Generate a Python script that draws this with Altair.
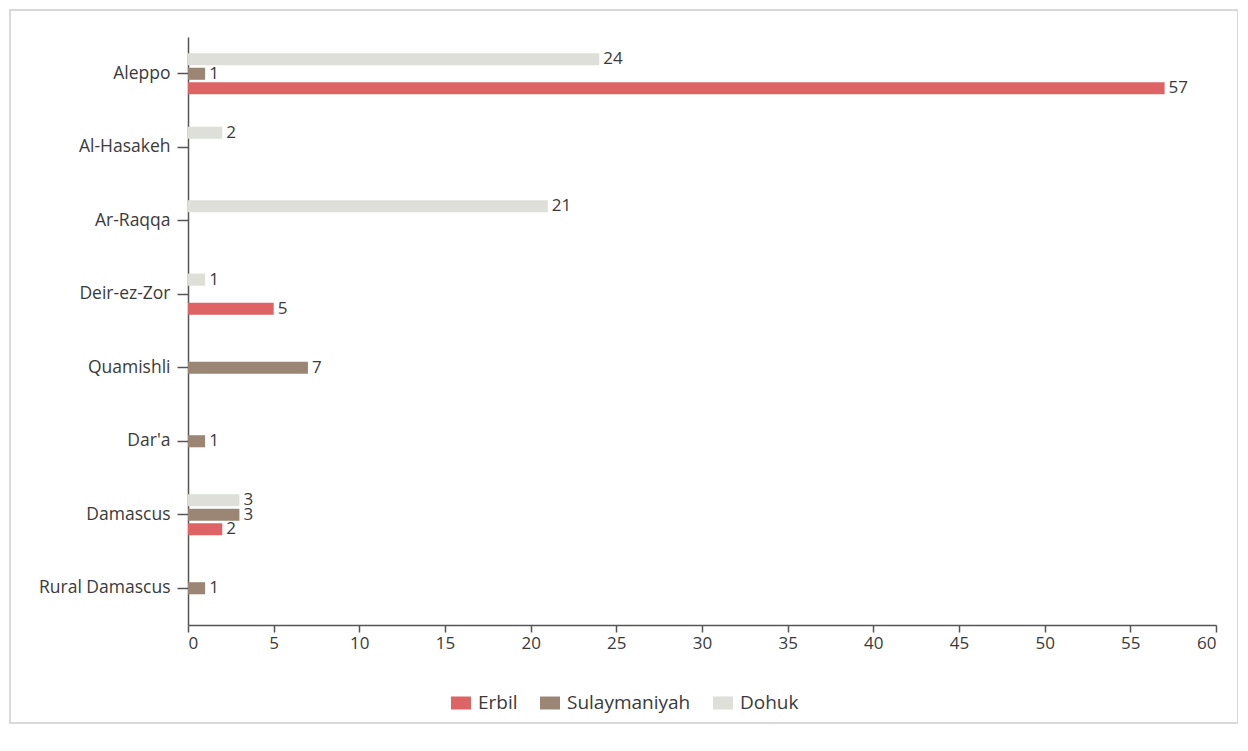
import altair as alt
import pandas as pd

categories = ["Aleppo", "Al-Hasakeh", "Ar-Raqqa", "Deir-ez-Zor", "Quamishli", "Dar'a", "Damascus", "Rural Damascus"]
series = ["Erbil", "Sulaymaniyah", "Dohuk"]
erbil = [57, None, None, 5, None, None, 2, None]
sulaymaniyah = [1, None, None, None, 7, 1, 3, 1]
dohuk = [24, 2, 21, 1, None, None, 3, None]
colors = ["#dd6364", "#9b8676", "#dddfd8"]

rows = []
for name, vals in zip(series, [erbil, sulaymaniyah, dohuk]):
    for c, v in zip(categories, vals):
        if v is not None:
            rows.append({"city": c, "series": name, "value": v})
df = pd.DataFrame(rows)

FONT = "Open Sans"
TXT = "#3a3a3a"
AX = "#555555"

y_enc = alt.Y("city:N", sort=categories, title=None,
              scale=alt.Scale(paddingInner=0.4, paddingOuter=0.2),
              axis=alt.Axis(tickSize=11, labelPadding=7, labelFontSize=17.5, labelColor=TXT,
                            domainColor=AX, tickColor=AX, labelFont=FONT, domainWidth=1.5,
                            tickWidth=1.5))
yoff_enc = alt.YOffset("series:N", sort=["Dohuk", "Sulaymaniyah", "Erbil"],
                       scale=alt.Scale(paddingInner=0.17, paddingOuter=0.1))
x_enc = alt.X("value:Q", title=None,
              scale=alt.Scale(domain=[0, 60], nice=False),
              axis=alt.Axis(values=list(range(0, 61, 5)), grid=False, tickSize=7, labelPadding=3,
                            labelFontSize=17, labelColor=TXT, domainColor=AX,
                            tickColor=AX, labelFont=FONT, domainWidth=1.5, tickWidth=1.5))

base = alt.Chart(df)

bars = base.mark_bar(cornerRadius=0).encode(
    x=x_enc,
    y=y_enc,
    yOffset=yoff_enc,
    color=alt.Color("series:N", sort=series,
                    scale=alt.Scale(domain=series, range=colors),
                    legend=alt.Legend(title=None, orient="none", direction="horizontal",
                                      legendX=263, legendY=656, labelFontSize=19,
                                      labelColor=TXT, labelFont=FONT,
                                      symbolType="M-1,-0.65H1V0.65H-1Z", symbolSize=400,
                                      symbolOpacity=1, symbolStrokeWidth=0,
                                      columnPadding=22, labelOffset=7)),
)

labels = base.mark_text(align="left", baseline="middle", dx=4, fontSize=17,
                        color=TXT, font=FONT).encode(
    x="value:Q",
    y=alt.Y("city:N", sort=categories),
    yOffset=yoff_enc,
    text="value:Q",
)

frame = alt.Chart(pd.DataFrame({"a": [0]})).mark_rect(
    fill="transparent", stroke="#d9d9d9", strokeWidth=2
).encode(
    x=alt.value(-178), x2=alt.value(1050), y=alt.value(-27), y2=alt.value(686)
)

chart = alt.layer(frame, bars, labels).properties(
    width=1028, height=588,
    padding={"left": 180, "top": 29, "right": 22, "bottom": 103},
    autosize=alt.AutoSizeParams(type="none"),
).configure(background="white").configure_view(stroke="transparent", strokeWidth=0)

chart.save("out.html", embed_options={"renderer": "svg", "actions": False})
